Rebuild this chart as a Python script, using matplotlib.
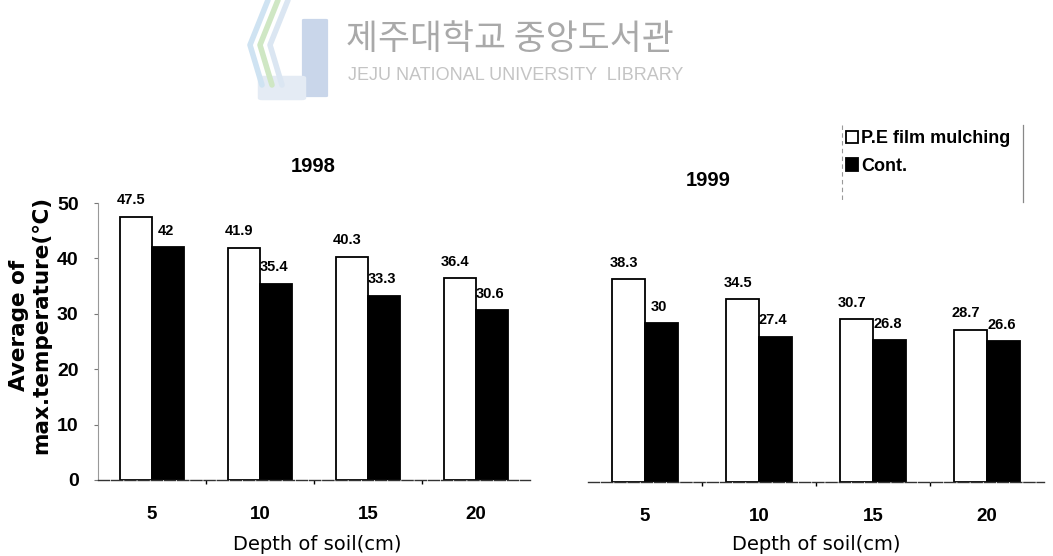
import numpy as np
import matplotlib.pyplot as plt
from matplotlib.patches import FancyBboxPatch
from matplotlib.lines import Line2D

plt.rcParams['font.family'] = ['Liberation Sans', 'DejaVu Sans']

# 토양 깊이별 평균 최고 지온
depths = ['5', '10', '15', '20']
pe_1998 = [47.5, 41.9, 40.3, 36.4]
cont_1998 = [42, 35.4, 33.3, 30.6]
pe_1999 = [38.3, 34.5, 30.7, 28.7]
cont_1999 = [30, 27.4, 26.8, 26.6]
yticks = [0, 10, 20, 30, 40, 50]

W, H = 1053, 556
fig = plt.figure(figsize=(W / 100, H / 100), dpi=100)


def fx(px):
    return px / W


def fy(py):
    return 1 - py / H


# 워터마크
fig.text(fx(510), fy(39), '제주대학교 중앙도서관', ha='center', va='center',
         fontsize=25, color='#a9a9a9', family=['Noto Sans CJK KR'])
fig.text(fx(516), fy(76), 'JEJU NATIONAL UNIVERSITY  LIBRARY', ha='center', va='center',
         fontsize=13, color='#c4c4c4', fontstretch='condensed')
fig.patches.append(FancyBboxPatch((fx(304), fy(96)), fx(22), 76 / H,
                                  boxstyle='round,pad=0.002', transform=fig.transFigure,
                                  facecolor='#c9d6ea', edgecolor='none'))
fig.patches.append(FancyBboxPatch((fx(262), fy(98)), fx(40), 20 / H,
                                  boxstyle='round,pad=0.004', transform=fig.transFigure,
                                  facecolor='#e4ebf4', edgecolor='none'))
for dx, col in [(0, '#cfe3f2'), (10, '#cfe7c4'), (20, '#dbe6f2')]:
    fig.lines.append(Line2D([fx(268 + dx), fx(250 + dx), fx(262 + dx)],
                            [fy(0), fy(45), fy(85)], transform=fig.transFigure,
                            color=col, lw=4, solid_capstyle='round'))


def draw_panel(ax, pe, cont, width, ytop, off):
    x = np.arange(len(depths))
    ax.bar(x - width / 2, pe, width, color='white', edgecolor='black', linewidth=1.3,
           label='P.E film mulching')
    ax.bar(x + width / 2, cont, width, color='black', edgecolor='black', linewidth=1.3,
           label='Cont.')
    for xi, v in zip(x, pe):
        ax.text(xi - width / 2 - 0.04, v + off, f'{v:g}', ha='center', va='bottom',
                fontsize=10.5, fontweight='bold')
    for xi, v in zip(x, cont):
        ax.text(xi + width / 2 - 0.02, v + off, f'{v:g}', ha='center', va='bottom',
                fontsize=10.5, fontweight='bold')
    ax.set_xlim(-0.5, len(depths) - 0.5)
    ax.set_ylim(0, ytop)
    ax.set_xticks(x)
    ax.set_xticklabels(depths, fontsize=13.5, fontweight='bold')
    ax.set_xticks(np.arange(len(depths) - 1) + 0.5, minor=True)
    ax.tick_params(axis='x', which='major', length=0, pad=19)
    ax.tick_params(axis='x', which='minor', length=3, direction='out', width=1)
    for s in ['top', 'right']:
        ax.spines[s].set_visible(False)
    ax.spines['bottom'].set_linewidth(1)
    ax.spines['bottom'].set_color('#333333')
    ax.spines['bottom'].set_linestyle((0, (8, 1.5)))


ax1 = fig.add_axes([fx(98), 76 / H, 432 / W, 277 / H])
draw_panel(ax1, pe_1998, cont_1998, 0.30, 50, 1.7)
ax1.set_yticks(yticks)
ax1.set_yticklabels([str(v) for v in yticks], fontweight='bold')
ax1.tick_params(axis='y', length=3, width=0.8, color='#777777', labelsize=14, pad=11)
ax1.spines['left'].set_color('#999999')
ax1.spines['left'].set_linewidth(0.8)
fig.text(fx(313), fy(167), '1998', ha='center', va='center', fontsize=14.5,
         fontweight='bold')
fig.text(fx(30), fy(325), 'Average of\nmax.temperature(℃)', rotation=90,
         ha='center', va='center', fontsize=15.5, fontweight='bold', linespacing=1.1,
         family=['DejaVu Sans'])
fig.text(fx(317), fy(545), 'Depth of soil(cm)', ha='center', va='center', fontsize=14,
         family=['DejaVu Sans'])

ax2 = fig.add_axes([fx(588), 74 / H, 456 / W, 277 / H])
draw_panel(ax2, pe_1999, cont_1999, 0.29, 52.3, 1.8)
ax2.spines['left'].set_visible(False)
ax2.set_yticks([])
fig.text(fx(708), fy(180), '1999', ha='center', va='center', fontsize=14.5,
         fontweight='bold')
fig.text(fx(816), fy(545), 'Depth of soil(cm)', ha='center', va='center', fontsize=14,
         family=['DejaVu Sans'])

leg = ax2.legend(loc='upper left', bbox_to_anchor=(fx(846), fy(130)),
                 bbox_transform=fig.transFigure, frameon=False,
                 handlelength=0.65, handleheight=0.65, handletextpad=0.2,
                 labelspacing=0.6, prop={'size': 13, 'weight': 'bold'},
                 borderpad=0, borderaxespad=0)
# 범례 테두리 (좌우만 보임)
fig.lines.append(Line2D([fx(842), fx(842)], [fy(125), fy(202)], transform=fig.transFigure,
                        color='#999999', lw=0.8, ls=(0, (4, 3))))
fig.lines.append(Line2D([fx(1023), fx(1023)], [fy(125), fy(202)], transform=fig.transFigure,
                        color='#888888', lw=0.9))

fig.savefig('out.png', dpi=100)
